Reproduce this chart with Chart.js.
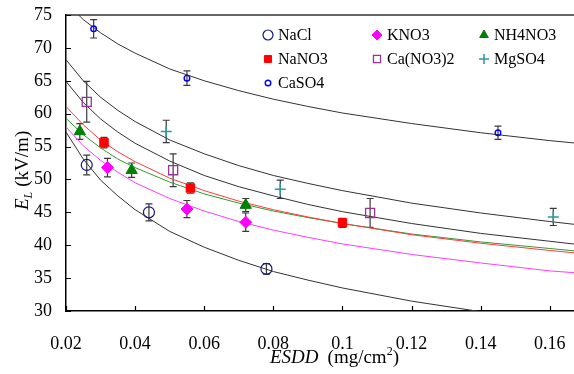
<!DOCTYPE html>
<html>
<head>
<meta charset="utf-8">
<script src="https://cdn.jsdelivr.net/npm/chart.js@4.4.1/dist/chart.umd.min.js"></script>
<style>
  html, body { margin: 0; padding: 0; background: #fff; }
  canvas { display: block; }
</style>
</head>
<body>
<canvas id="chart" width="574" height="374"></canvas>
<script>
// measured points (ESDD, EL, error)
var naclX = [0.026, 0.044, 0.078];
var naclY = [52.2, 45.0, 36.4];
var naclErr = [1.5, 1.3, 0.8];

var kno3X = [0.032, 0.055, 0.072];
var kno3Y = [51.8, 45.5, 43.5];
var kno3Err = [1.4, 1.3, 1.4];

var nh4no3X = [0.024, 0.039, 0.072];
var nh4no3Y = [57.3, 51.4, 46.1];
var nh4no3Err = [1.2, 1.1, 1.0];

var nano3X = [0.031, 0.056, 0.1];
var nano3Y = [55.6, 48.7, 43.4];
var nano3Err = [0.8, 0.8, 0.7];

var cano32X = [0.026, 0.051, 0.108];
var cano32Y = [61.8, 51.4, 44.9];
var cano32Err = [3.1, 2.5, 2.2];

var mgso4X = [0.049, 0.082, 0.161];
var mgso4Y = [57.3, 48.5, 44.3];
var mgso4Err = [1.7, 1.4, 1.3];

var caso4X = [0.028, 0.055, 0.145];
var caso4Y = [72.9, 65.4, 57.1];
var caso4Err = [1.4, 1.1, 1.0];

// fitted curves
var curveX = [0.02, 0.025, 0.03, 0.035, 0.04, 0.05, 0.06, 0.07, 0.08, 0.09, 0.1, 0.12, 0.14, 0.16, 0.17];
var caso4Fit = [76.9, 74.3, 72.3, 70.6, 69.2, 66.8, 65.0, 63.5, 62.2, 61.1, 60.1, 58.5, 57.1, 55.9, 55.4];
var mgso4Fit = [68.2, 65.0, 62.5, 60.5, 58.8, 56.0, 53.9, 52.1, 50.6, 49.4, 48.3, 46.4, 44.9, 43.6, 43.0];
var cano32Fit = [64.9, 61.7, 59.2, 57.2, 55.5, 52.8, 50.6, 48.9, 47.5, 46.2, 45.1, 43.3, 41.8, 40.6, 40.0];
var nano3Fit = [61.1, 58.3, 56.0, 54.2, 52.7, 50.2, 48.3, 46.7, 45.4, 44.3, 43.3, 41.6, 40.3, 39.2, 38.7];
var nh4no3Fit = [59.3, 56.8, 54.8, 53.1, 51.8, 49.6, 47.8, 46.4, 45.2, 44.2, 43.3, 41.7, 40.5, 39.5, 39.0];
var kno3Fit = [58.0, 55.1, 52.9, 51.1, 49.5, 47.1, 45.2, 43.6, 42.3, 41.2, 40.2, 38.6, 37.3, 36.1, 35.7];
var naclFit = [57.2, 53.1, 49.9, 47.5, 45.4, 42.1, 39.7, 37.7, 36.0, 34.7, 33.5, 31.5, 29.9, 28.6, 28.1];

var xTicks = [0.02, 0.04, 0.06, 0.08, 0.1, 0.12, 0.14, 0.16];
var yTicks = [30, 35, 40, 45, 50, 55, 60, 65, 70, 75];

var SERIF = "'Liberation Serif', 'Times New Roman', serif";

function pts(xs, ys) {
    var out = [];
    for (var i = 0; i < xs.length; i++) out.push({ x: xs[i], y: ys[i] });
    return out;
}

function marker(label, xs, ys, errs, style, radius, stroke, fill, bw) {
    return {
        label: label, data: pts(xs, ys), errors: errs, showLine: false,
        pointStyle: style, pointRadius: radius, pointBorderWidth: bw,
        borderColor: stroke, backgroundColor: fill,
        pointBorderColor: stroke, pointBackgroundColor: fill, inLegend: true
    };
}

function curve(ys, color) {
    return {
        label: '', data: pts(curveX, ys), showLine: true, pointRadius: 0,
        borderColor: color, borderWidth: 1, tension: 0, fill: false
    };
}

var open = 'rgba(0,0,0,0)';
var datasets = [
    marker('NaCl', naclX, naclY, naclErr, 'circle', 5.5, '#14148c', open, 1.2),
    marker('KNO3', kno3X, kno3Y, kno3Err, 'rectRot', 6, '#ff00ff', '#ff00ff', 1),
    marker('NH4NO3', nh4no3X, nh4no3Y, nh4no3Err, 'triangle', 6.5, '#008000', '#008000', 1),
    marker('NaNO3', nano3X, nano3Y, nano3Err, 'rect', 6, '#ff0000', '#ff0000', 1),
    marker('Ca(NO3)2', cano32X, cano32Y, cano32Err, 'rect', 6.4, '#993399', open, 1.3),
    marker('MgSO4', mgso4X, mgso4Y, mgso4Err, 'cross', 5.5, '#2e9999', '#2e9999', 1.5),
    marker('CaSO4', caso4X, caso4Y, caso4Err, 'circle', 2.8, '#0000ff', open, 1.4),
    curve(caso4Fit, '#333333'),
    curve(mgso4Fit, '#333333'),
    curve(cano32Fit, '#333333'),
    curve(nano3Fit, '#ff3b3b'),
    curve(nh4no3Fit, '#2f9a2f'),
    curve(kno3Fit, '#ff3cff'),
    curve(naclFit, '#333333')
];

var decor = {
    id: 'decor',
    beforeDatasetsDraw: function (chart) {
        var ctx = chart.ctx, xs = chart.scales.x, ys = chart.scales.y;
        ctx.save();
        ctx.strokeStyle = '#3a3a3a';
        ctx.lineWidth = 1.2;
        chart.data.datasets.forEach(function (ds) {
            if (!ds.errors) return;
            ds.data.forEach(function (p, i) {
                var px = xs.getPixelForValue(p.x);
                var top = ys.getPixelForValue(p.y + ds.errors[i]);
                var bot = ys.getPixelForValue(p.y - ds.errors[i]);
                ctx.beginPath();
                ctx.moveTo(px, top); ctx.lineTo(px, bot);
                ctx.moveTo(px - 3.5, top); ctx.lineTo(px + 3.5, top);
                ctx.moveTo(px - 3.5, bot); ctx.lineTo(px + 3.5, bot);
                ctx.stroke();
            });
        });
        ctx.restore();
    },
    afterDraw: function (chart) {
        var ctx = chart.ctx, a = chart.chartArea, xs = chart.scales.x, ys = chart.scales.y;
        ctx.save();
        // frame top and inward tick marks
        ctx.strokeStyle = '#333';
        ctx.lineWidth = 1.5;
        ctx.beginPath();
        ctx.moveTo(a.left, a.top); ctx.lineTo(a.right, a.top);
        ctx.stroke();
        ctx.strokeStyle = '#000';
        ctx.lineWidth = 1.2;
        ctx.beginPath();
        xTicks.forEach(function (v) {
            var px = Math.round(xs.getPixelForValue(v)) + 0.5;
            ctx.moveTo(px, a.bottom); ctx.lineTo(px, a.bottom - 5);
        });
        yTicks.forEach(function (v) {
            var py = Math.round(ys.getPixelForValue(v)) + 0.5;
            ctx.moveTo(a.left, py); ctx.lineTo(a.left + 5, py);
        });
        ctx.stroke();

        // axis titles
        ctx.fillStyle = '#000';
        ctx.textBaseline = 'alphabetic';
        ctx.textAlign = 'left';
        var x = 270, base = 363;
        ctx.font = 'italic 19px ' + SERIF;
        ctx.fillText('ESDD', x, base);
        x += ctx.measureText('ESDD').width + 9;
        ctx.font = '19px ' + SERIF;
        ctx.fillText('(mg/cm', x, base);
        x += ctx.measureText('(mg/cm').width;
        ctx.font = '12px ' + SERIF;
        ctx.fillText('2', x, base - 8);
        x += ctx.measureText('2').width;
        ctx.font = '19px ' + SERIF;
        ctx.fillText(')', x, base);

        ctx.translate(28, 210);
        ctx.rotate(-Math.PI / 2);
        var y = 0;
        ctx.font = 'italic 19px ' + SERIF;
        ctx.fillText('E', y, 0);
        y += ctx.measureText('E').width;
        ctx.font = 'italic 12px ' + SERIF;
        ctx.fillText('L', y, 4);
        y += ctx.measureText('L').width + 5;
        ctx.font = '19px ' + SERIF;
        ctx.fillText('(kV/m)', y, 0);
        ctx.setTransform(1, 0, 0, 1, 0, 0);

        // legend, three columns
        var colX = [268, 377, 484], rowY = [35, 59, 83];
        var items = chart.data.datasets.filter(function (d) { return d.inLegend; });
        ctx.font = '16px ' + SERIF;
        ctx.textBaseline = 'middle';
        items.forEach(function (ds, i) {
            var cx = colX[i % 3], cy = rowY[Math.floor(i / 3)];
            var r = Math.min(ds.pointRadius, 5);
            if (ds.pointStyle === 'circle' && ds.pointRadius < 4) r = ds.pointRadius;
            ctx.fillStyle = ds.backgroundColor;
            ctx.strokeStyle = ds.borderColor;
            ctx.lineWidth = ds.pointBorderWidth;
            Chart.helpers.drawPoint(ctx, { pointStyle: ds.pointStyle, radius: r, borderWidth: ds.pointBorderWidth, rotation: 0 }, cx, cy);
            ctx.fillStyle = '#000';
            ctx.fillText(ds.label, cx + 10, cy + 1);
        });
        ctx.restore();
    }
};

new Chart(document.getElementById('chart'), {
    type: 'scatter',
    data: { datasets: datasets },
    options: {
        responsive: false,
        animation: false,
        layout: { autoPadding: false, padding: { top: 15, right: 0, bottom: 0, left: 0 } },
        plugins: { legend: { display: false }, tooltip: { enabled: false } },
        scales: {
            x: {
                type: 'linear', min: 0.02, max: 0.167,
                grid: { display: false, drawTicks: false },
                border: { color: '#000', width: 1.5 },
                ticks: {
                    stepSize: 0.02, includeBounds: false, padding: 22, color: '#000', maxRotation: 0,
                    font: { family: SERIF, size: 18 },
                    callback: function (v) { return String(Math.round(v * 100) / 100); }
                },
                afterFit: function (s) { s.height = 63; s.paddingLeft = 0; s.paddingRight = 0; }
            },
            y: {
                min: 30, max: 75,
                grid: { display: false, drawTicks: false },
                border: { color: '#000', width: 1.5 },
                ticks: { stepSize: 5, padding: 14, color: '#000', font: { family: SERIF, size: 18 } },
                afterFit: function (s) { s.width = 66; s.paddingTop = 0; s.paddingBottom = 0; }
            }
        }
    },
    plugins: [decor]
});
</script>
</body>
</html>
